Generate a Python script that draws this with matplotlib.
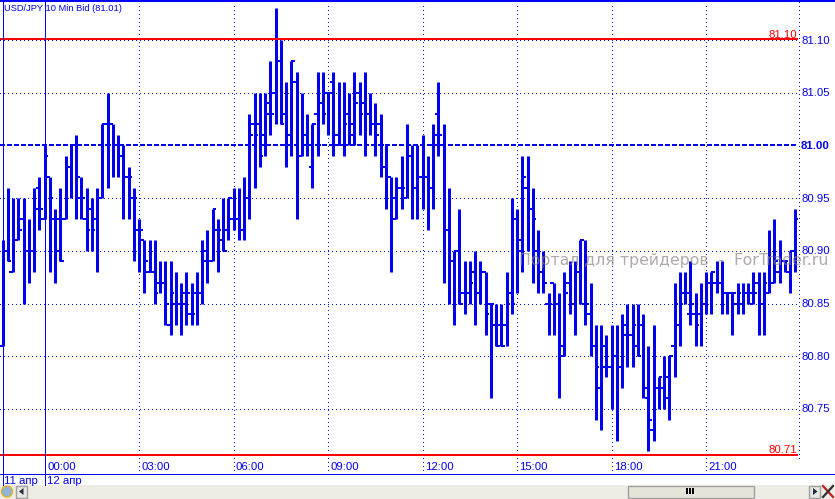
import matplotlib
matplotlib.use("Agg")
import matplotlib.pyplot as plt
from matplotlib.patches import Rectangle, Polygon, Circle

highs = [80.91,80.96,80.95,80.95,80.95,80.93,80.96,80.97,
 81.00,80.97,80.94,80.96,80.99,81.00,81.01,80.97,80.96,80.95,
 80.96,81.02,81.05,81.02,81.01,81.00,80.98,80.96,80.93,80.91,
 80.91,80.91,80.89,80.89,80.89,80.88,80.87,80.88,80.87,80.88,
 80.91,80.92,80.94,80.93,80.95,80.95,80.96,80.96,80.97,81.03,
 81.05,81.05,81.05,81.08,81.13,81.10,81.06,81.08,81.07,81.05,
 81.03,81.02,81.07,81.07,81.05,81.07,81.06,81.06,81.05,81.07,
 81.06,81.07,81.05,81.04,81.03,81.00,80.97,80.97,80.99,81.02,
 81.00,81.00,81.01,80.99,81.02,81.06,81.02,80.96,80.90,80.94,
 80.89,80.89,80.90,80.89,80.88,80.85,80.85,80.85,80.88,80.95,
 80.94,80.99,80.99,80.96,80.92,80.90,80.86,80.87,80.86,80.88,
 80.89,80.89,80.91,80.91,80.87,80.83,80.83,80.82,80.83,80.83,
 80.84,80.85,80.85,80.85,80.84,80.81,80.83,80.78,80.80,80.80,
 80.87,80.88,80.88,80.89,80.86,80.87,80.88,80.88,80.89,80.89,
 80.86,80.86,80.87,80.87,80.87,80.88,80.88,80.88,80.92,80.93,
 80.91,80.89,80.90,80.94]
lows = [80.81,80.89,80.88,80.91,80.85,80.87,80.88,80.92,
 80.93,80.88,80.87,80.89,80.93,80.95,80.93,80.93,80.90,80.90,
 80.88,80.95,80.96,80.97,80.97,80.93,80.93,80.89,80.88,80.86,
 80.88,80.85,80.86,80.83,80.82,80.83,80.82,80.83,80.83,80.83,
 80.85,80.87,80.89,80.88,80.90,80.91,80.92,80.91,80.91,80.93,
 80.96,80.98,80.99,81.01,81.02,81.02,80.98,80.99,80.93,80.99,
 80.99,80.96,80.99,81.02,81.01,80.99,81.00,80.99,81.00,81.00,
 81.01,80.99,81.01,80.99,80.97,80.94,80.88,80.93,80.94,80.95,
 80.93,80.93,80.94,80.92,80.94,80.99,80.87,80.85,80.83,80.85,
 80.84,80.85,80.83,80.85,80.82,80.76,80.81,80.81,80.81,80.84,
 80.86,80.88,80.90,80.87,80.86,80.86,80.82,80.82,80.76,80.80,
 80.84,80.82,80.85,80.83,80.80,80.74,80.73,80.78,80.75,80.72,
 80.77,80.79,80.79,80.80,80.76,80.71,80.72,80.75,80.75,80.74,
 80.78,80.81,80.85,80.83,80.81,80.81,80.84,80.84,80.86,80.84,
 80.84,80.82,80.84,80.84,80.85,80.85,80.82,80.82,80.86,80.87,
 80.87,80.88,80.86,80.88]
opens = [80.81,80.90,80.88,80.91,80.93,80.90,80.90,80.96,
 80.93,80.97,80.93,80.90,80.93,80.98,81.00,80.95,80.93,80.94,
 80.93,80.95,81.02,81.02,81.00,81.00,80.97,80.95,80.92,80.91,
 80.88,80.88,80.87,80.87,80.83,80.85,80.85,80.85,80.84,80.86,
 80.86,80.89,80.89,80.92,80.91,80.92,80.93,80.93,80.92,80.95,
 81.02,81.02,81.01,81.03,81.05,81.08,81.03,81.01,81.06,80.99,
 81.01,80.98,81.03,81.04,81.05,81.06,81.01,81.00,81.03,81.01,
 81.05,81.04,81.03,81.02,81.02,80.98,80.97,80.93,80.96,80.95,
 80.99,81.00,80.97,80.97,80.96,81.03,81.00,80.92,80.89,80.90,
 80.86,80.86,80.88,80.86,80.88,80.85,80.83,80.83,80.83,80.86,
 80.93,80.90,80.96,80.94,80.90,80.88,80.85,80.87,80.85,80.80,
 80.87,80.85,80.88,80.85,80.84,80.81,80.77,80.79,80.79,80.80,
 80.79,80.82,80.82,80.81,80.83,80.76,80.73,80.77,80.77,80.76,
 80.81,80.83,80.86,80.84,80.84,80.84,80.85,80.87,80.87,80.87,
 80.86,80.86,80.85,80.85,80.86,80.85,80.87,80.85,80.86,80.87,
 80.88,80.89,80.88,80.90]
closes = [80.90,80.89,80.91,80.92,80.90,80.90,80.94,80.94,
 80.99,80.95,80.93,80.89,80.98,81.00,80.97,80.95,80.92,80.92,
 80.95,81.02,81.00,81.00,80.99,80.97,80.97,80.95,80.92,80.89,
 80.88,80.86,80.87,80.85,80.86,80.85,80.86,80.86,80.84,80.86,
 80.90,80.89,80.94,80.92,80.90,80.95,80.93,80.92,80.95,81.01,
 81.01,80.99,81.04,81.03,81.08,81.02,81.01,81.08,80.99,81.00,
 81.00,81.02,81.00,81.03,81.05,81.00,81.00,81.02,81.02,81.04,
 81.03,81.00,81.02,81.01,81.00,80.97,80.95,80.96,80.96,81.00,
 80.96,80.97,80.97,80.96,81.01,81.01,80.92,80.89,80.90,80.85,
 80.86,80.87,80.86,80.88,80.84,80.85,80.81,80.81,80.85,80.85,
 80.91,80.97,80.94,80.93,80.88,80.87,80.85,80.85,80.81,80.86,
 80.85,80.88,80.91,80.85,80.81,80.79,80.81,80.79,80.80,80.79,
 80.83,80.82,80.83,80.80,80.77,80.74,80.77,80.78,80.78,80.80,
 80.85,80.85,80.86,80.85,80.83,80.85,80.87,80.88,80.87,80.86,
 80.86,80.86,80.86,80.86,80.86,80.86,80.85,80.87,80.87,80.89,
 80.89,80.89,80.90,80.93]
first_bar = -8
bar_index = list(range(first_bar, first_bar + len(highs)))
price_ticks = [81.10, 81.05, 81.00, 80.95, 80.90, 80.85, 80.80, 80.75]
price_labels = ['81.10', '81.05', '81.00', '80.95', '80.90', '80.85', '80.80', '80.75']
time_index = [0, 18, 36, 54, 72, 90, 108, 126]
time_labels = ['00:00', '03:00', '06:00', '09:00', '12:00', '15:00', '18:00', '21:00']
day_labels = ['11 апр', '12 апр']
high_level = 81.10
low_level = 80.71
last_level = 81.00
title = 'USD/JPY 10 Min Bid (81.01)'
watermark = 'Портал для трейдеров  -  ForTrader.ru'

BLUE = '#0000f0'
LINE = '#0000ff'
RED = '#ff0000'
W, H = 835, 499
plt.rcParams['font.family'] = ['Liberation Sans', 'DejaVu Sans']
plt.rcParams['path.snap'] = True
fig = plt.figure(figsize=(W / 100, H / 100), dpi=100, facecolor='white')

# pixel overlay for window chrome
ov = fig.add_axes([0, 0, 1, 1], zorder=3)
ov.set_xlim(0, W); ov.set_ylim(H, 0); ov.axis('off'); ov.patch.set_alpha(0)

# main price axes: pixels 0..798 wide, 3..458 high
L, R, T, B = 0, 798, 3, 458
ax = fig.add_axes([L / W, 1 - B / H, (R - L) / W, (B - T) / H], zorder=2)
ax.patch.set_alpha(0)
px_per_bar = 5.25
x0 = 44.5
ax.set_xlim((L - x0) / px_per_bar, (R - x0) / px_per_bar)
px_per_price = 1054.0
y100 = 145.5
ax.set_ylim(81.0 - (B - y100) / px_per_price, 81.0 + (y100 - T) / px_per_price)
for s in ax.spines.values():
    s.set_visible(False)
ax.set_xticks([]); ax.set_yticks([])

THIN = 0.6
STEM = 2.16
THICK = 1.44
# grid
dots = (0, (1.2, 3.6))
for p in price_ticks:
    if p != last_level:
        ax.axhline(p, color=LINE, lw=THIN, ls=dots, antialiased=False, zorder=1)
for t in time_index:
    ax.axvline(t, color=LINE, lw=THIN, ls=dots, antialiased=False, zorder=1)

# OHLC bars
tick = 0.7
ax.vlines(bar_index, lows, highs, color=BLUE, lw=STEM, zorder=3, snap=True)
ax.hlines(opens, [i - tick for i in bar_index], bar_index, color=BLUE, lw=THICK, zorder=3, snap=True)
ax.hlines(closes, bar_index, [i + tick for i in bar_index], color=BLUE, lw=THICK, zorder=3, snap=True)

# levels
ax.axhline(high_level + 0.001, color=RED, lw=THICK, zorder=4)
ax.axhline(low_level - 0.0035, color=RED, lw=THICK, zorder=4)
ax.axhline(last_level, color=BLUE, lw=THICK, ls=(0, (2.5, 1)), zorder=4)

def y_px(p):
    return y100 + (81.0 - p) * px_per_price
def x_px(i):
    return x0 + i * px_per_bar

# chrome lines
ov.plot([0, W], [1, 1], color=LINE, lw=THICK)
ov.plot([0, W], [473.5, 473.5], color=LINE, lw=0.72)
ov.plot([2.5, 2.5], [0, 485], color=LINE, lw=0.72)
ov.plot([44.5, 44.5], [0, 485], color=LINE, lw=0.72)
ov.plot([798.5, 798.5], [2, 460], color=LINE, lw=THIN, ls=dots, antialiased=False)
for t in time_index:
    ov.plot([x_px(t)] * 2, [458, 473], color=LINE, lw=THIN, ls=dots, antialiased=False)

fs = 8.2
ov.text(4, 8, title, color=BLUE, fontsize=6.7, va='center', ha='left')
for p, lab in zip(price_ticks, price_labels):
    ov.text(801, y_px(p) + 0.5, lab, color=BLUE, fontsize=fs, va='center', ha='left',
            fontweight='bold' if p == last_level else 'normal')
ov.text(797, 34.5, f'{high_level:.2f}', color=RED, fontsize=fs, va='center', ha='right')
ov.text(797, 450, f'{low_level:.2f}', color=RED, fontsize=fs, va='center', ha='right')
for t, lab in zip(time_index, time_labels):
    ov.text(x_px(t) + 2.5, 467, lab, color=BLUE, fontsize=fs, va='center', ha='left')
ov.text(4.5, 480.5, day_labels[0], color=BLUE, fontsize=fs, va='center', ha='left')
ov.text(47, 480.5, day_labels[1], color=BLUE, fontsize=fs, va='center', ha='left')
ov.text(519, 261, watermark, color='#8f8585', alpha=0.7, fontsize=11.3, va='center', ha='left',
        family=['DejaVu Sans'])

# status strip
ov.add_patch(Rectangle((0, 485), W, 14, fc='#eeede5', ec='none'))
ov.add_patch(Rectangle((627.5, 485.5), 126, 12, fc='#e6e4d8', ec='#a0a0a0', lw=1))
for dx in (686, 689, 692):
    ov.add_patch(Rectangle((dx, 488), 2, 6, fc='black', ec='none'))
ov.add_patch(Rectangle((15.5, 485.5), 11, 12, fc='#e8e8e0', ec='#a0a0a0', lw=1))
ov.add_patch(Polygon([[23.5, 488], [23.5, 495], [19, 491.5]], fc='#203040', ec='none'))
ov.add_patch(Rectangle((808.5, 485.5), 11, 12, fc='#e8e8e0', ec='#a0a0a0', lw=1))
ov.add_patch(Polygon([[813, 488], [813, 495], [817.5, 491.5]], fc='#203040', ec='none'))
ov.add_patch(Circle((7, 491.5), 5.5, fc='#8fb4d8', ec='#e8b020', lw=1))
ov.plot([823, 833], [486, 497], color='#c02020', lw=1.6, snap=False)
ov.plot([833, 823], [486, 497], color='#303030', lw=1.6, snap=False)

fig.savefig('out.png', dpi=100, facecolor='white')
